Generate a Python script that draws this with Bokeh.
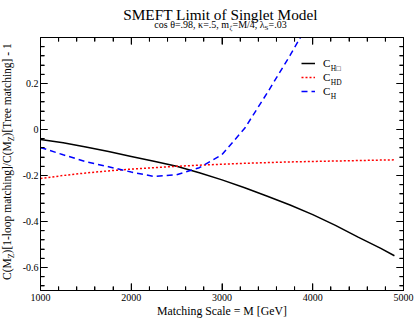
import math
from bokeh.plotting import figure
from bokeh.layouts import column, row
from bokeh.models import (Range1d, FixedTicker, LinearAxis, Label,
                          Legend, LegendItem, CustomJSTickFormatter, Div)
from bokeh.embed import file_html
from bokeh.resources import INLINE

# ---------------- data ----------------
mass_a = [1000, 1250, 1500, 1750, 2000, 2250, 2500, 2750, 3000, 3250, 3500, 3750, 4000, 4250, 4500, 4750, 4900]
c_hbox = [-0.043, -0.058, -0.076, -0.096, -0.117, -0.138, -0.160, -0.188, -0.219, -0.253,
          -0.290, -0.328, -0.370, -0.417, -0.468, -0.517, -0.549]
c_hd = [-0.213, -0.200, -0.189, -0.180, -0.172, -0.166, -0.160, -0.155, -0.151, -0.147,
        -0.144, -0.141, -0.139, -0.137, -0.135, -0.133, -0.132]
mass_h = [1000, 1250, 1500, 1750, 2000, 2250, 2500, 2750, 3000, 3250, 3500, 3750, 3900]
c_h = [-0.078, -0.110, -0.140, -0.162, -0.185, -0.204, -0.197, -0.166, -0.109, 0.005,
       0.160, 0.322, 0.425]

legend_main = ["C", "C", "C"]
legend_subs = ["H\u25a1", "HD", "H"]

title_text = "SMEFT Limit of Singlet Model"
subtitle_parts = [("cos \u03b8=.98, \u03ba=.5, m", False), ("\u03b6", True), ("=M/4, \u03bb", False),
                  ("S", True), ("=.03", False)]
ylabel_parts = [("C(M", False), ("Z", True), (")[1-loop matching]/C(M", False), ("Z", True),
                (")[Tree matching] - 1", False)]
xlabel_text = "Matching Scale = M [GeV]"

x_lo, x_hi = 1000, 5000
y_lo, y_hi = -0.7, 0.4
x_major = [1000, 2000, 3000, 4000, 5000]
x_minor = [m for m in range(1200, 5000, 200) if m % 1000]
y_major = [-0.6, -0.4, -0.2, 0.0, 0.2]
y_minor = [round(-0.68 + 0.04 * i, 2) for i in range(27) if i % 5 != 2]

# ---------------- layout helpers ----------------
FONT = "Liberation Serif"
TIMES = {' ': 250, 'C': 667, '(': 333, ')': 333, 'M': 889, 'Z': 611, '[': 333, ']': 333, '1': 500,
         '-': 333, 'l': 278, 'o': 500, 'p': 500, 'm': 778, 'a': 444, 't': 278, 'c': 444, 'h': 500,
         'i': 278, 'n': 500, 'g': 500, '/': 278, 'T': 611, 'r': 333, 'e': 444, 's': 389,
         '\u03b8': 500, '=': 564, '.': 250, '9': 500, '8': 500, ',': 250, '\u03ba': 520, '5': 500,
         '\u03b6': 440, '4': 500, '\u03bb': 480, 'S': 556, '0': 500, '3': 500, 'H': 722, 'D': 722}


def tw(s, size):
    return sum(TIMES.get(ch, 500) for ch in s) * size / 1000.0


def add_label(fig, text, x, y, size, angle=0.0, align="left"):
    fig.add_layout(Label(x=x, y=y, x_units="screen", y_units="screen", text=text,
                         text_font=FONT, text_font_size=f"{size}px", text_align=align,
                         text_baseline="alphabetic", angle=angle, text_color="black"))


PAGE_W, PAGE_H = 415, 320
TOP_H = 33
YL_W = 19
W, H = PAGE_W - YL_W, PAGE_H - TOP_H
FL, FR, FT, FB = 18, 12, 37 - TOP_H, 28
FW = W - FL - FR
FH = H - FT - FB

# ---------------- main plot ----------------
p = figure(width=W, height=H, output_backend="svg", toolbar_location=None,
           x_range=Range1d(x_lo, x_hi), y_range=Range1d(y_lo, y_hi),
           min_border_left=FL, min_border_right=FR, min_border_top=FT, min_border_bottom=FB,
           title_location=None, background_fill_color="white", border_fill_color="white")
p.grid.visible = False
p.outline_line_color = "black"
p.outline_line_width = 1

x_ticker = FixedTicker(ticks=x_major, minor_ticks=x_minor)
y_ticker = FixedTicker(ticks=y_major, minor_ticks=y_minor)

bottom_ax = p.below[0]
left_ax = p.left[0]
bottom_ax.ticker = x_ticker
left_ax.ticker = y_ticker
left_ax.formatter = CustomJSTickFormatter(
    code="return Math.abs(tick) < 1e-9 ? '0' : tick.toFixed(1);")

top_ax = LinearAxis(ticker=x_ticker, formatter=CustomJSTickFormatter(code="return '';"))
right_ax = LinearAxis(ticker=y_ticker, formatter=CustomJSTickFormatter(code="return '';"))
p.add_layout(top_ax, "above")
p.add_layout(right_ax, "right")

for ax in [bottom_ax, left_ax, top_ax, right_ax]:
    ax.major_tick_in = 7
    ax.major_tick_out = 0
    ax.minor_tick_in = 4
    ax.minor_tick_out = 0
    ax.axis_line_color = "black"
    ax.major_tick_line_color = "black"
    ax.minor_tick_line_color = "black"
    ax.major_label_text_font = FONT
    ax.major_label_text_font_size = "10px"
    ax.major_label_text_color = "black"
bottom_ax.major_label_standoff = 3
left_ax.major_label_standoff = 2
for ax in [top_ax, right_ax]:
    ax.major_label_text_font_size = "0px"
    ax.major_label_standoff = 0

bottom_ax.axis_label = xlabel_text
bottom_ax.axis_label_text_font = FONT
bottom_ax.axis_label_text_font_size = "11.8px"
bottom_ax.axis_label_text_font_style = "normal"
bottom_ax.axis_label_text_color = "black"
bottom_ax.axis_label_standoff = 0

# inward tick marks on all four sides, drawn as short segments at the tick positions
dy_px = (y_hi - y_lo) / FH   # data units per pixel, vertical
dx_px = (x_hi - x_lo) / FW   # data units per pixel, horizontal
for ticks, length in [(x_major, 7), (x_minor, 4)]:
    n = len(ticks)
    p.segment(x0=ticks, y0=[y_lo] * n, x1=ticks, y1=[y_lo + length * dy_px] * n,
              line_color="black", line_width=1)
    p.segment(x0=ticks, y0=[y_hi] * n, x1=ticks, y1=[y_hi - length * dy_px] * n,
              line_color="black", line_width=1)
for ticks, length in [(y_major, 7), (y_minor, 4)]:
    n = len(ticks)
    p.segment(x0=[x_lo] * n, y0=ticks, x1=[x_lo + length * dx_px] * n, y1=ticks,
              line_color="black", line_width=1)
    p.segment(x0=[x_hi] * n, y0=ticks, x1=[x_hi - length * dx_px] * n, y1=ticks,
              line_color="black", line_width=1)

# ---------------- curves ----------------
r1 = p.line(mass_a, c_hbox, line_color="black", line_width=1.5)
r2 = p.line(mass_a, c_hd, line_color="#ff0000", line_width=1.5, line_dash="2 2")
r3 = p.line(mass_h, c_h, line_color="#0000ff", line_width=1.5, line_dash="6 4")

# ---------------- legend ----------------
row_h = 14
leg_left = 261
leg_top = 20.7
legend = Legend(items=[LegendItem(label=legend_main[0], renderers=[r1]),
                       LegendItem(label=legend_main[1], renderers=[r2]),
                       LegendItem(label=legend_main[2], renderers=[r3])],
                location=(leg_left, FH - leg_top - 3 * row_h),
                glyph_width=14, glyph_height=row_h, label_height=row_h, label_standoff=8,
                spacing=0, padding=0, margin=0, border_line_color=None,
                background_fill_alpha=0, label_text_font=FONT, label_text_font_size="11px",
                label_text_color="black")
p.add_layout(legend)

sub_x = leg_left + 14 + 8 + tw("C", 11)
for i, s in enumerate(legend_subs):
    cy = leg_top + row_h / 2 + i * row_h
    add_label(p, s, sub_x, FH - (cy + 5.5), 7.5)

# ---------------- title & subtitle (own strip) ----------------
top = figure(width=PAGE_W, height=TOP_H, output_backend="svg", toolbar_location=None,
             x_range=Range1d(0, PAGE_W), y_range=Range1d(0, TOP_H),
             min_border_left=0, min_border_right=0, min_border_top=0, min_border_bottom=0,
             x_axis_location=None, y_axis_location=None, title_location=None,
             background_fill_color="white", border_fill_color="white")
top.grid.visible = False
top.outline_line_color = None
cx = YL_W + FL + FW / 2
add_label(top, title_text, cx, TOP_H - 14, 15.3, align="center")

MAIN, SUB = 10, 7
tot = sum(tw(t, SUB if s else MAIN) for t, s in subtitle_parts)
x0 = cx - tot / 2
for t, s in subtitle_parts:
    sz = SUB if s else MAIN
    add_label(top, t, x0, TOP_H - (27 if s else 24), sz)
    x0 += tw(t, sz)

# ---------------- y axis label (HTML strip, rotated) ----------------
YM, YS = 11.5, 8
ylen = sum(tw(t, YS if s else YM) for t, s in ylabel_parts)
start_y = 161 + ylen / 2 - TOP_H
inner = "".join(
    f'<span style="font-size:{YS}px;position:relative;top:2.5px;">{t}</span>' if s else t
    for t, s in ylabel_parts)
yl_html = (
    f'<div style="position:relative;width:{YL_W}px;height:{H}px;overflow:visible;">'
    f'<div style="position:absolute;left:1.2px;top:{start_y:.1f}px;transform:rotate(-90deg);'
    f'transform-origin:0 0;white-space:nowrap;font-family:\'{FONT}\';font-size:{YM}px;'
    f'line-height:12px;color:black;">{inner}</div></div>')
yl = Div(text=yl_html, width=YL_W, height=H, margin=0)

layout = column(top, row(yl, p, spacing=0), spacing=0)
open("out.html", "w").write(file_html(layout, INLINE))
